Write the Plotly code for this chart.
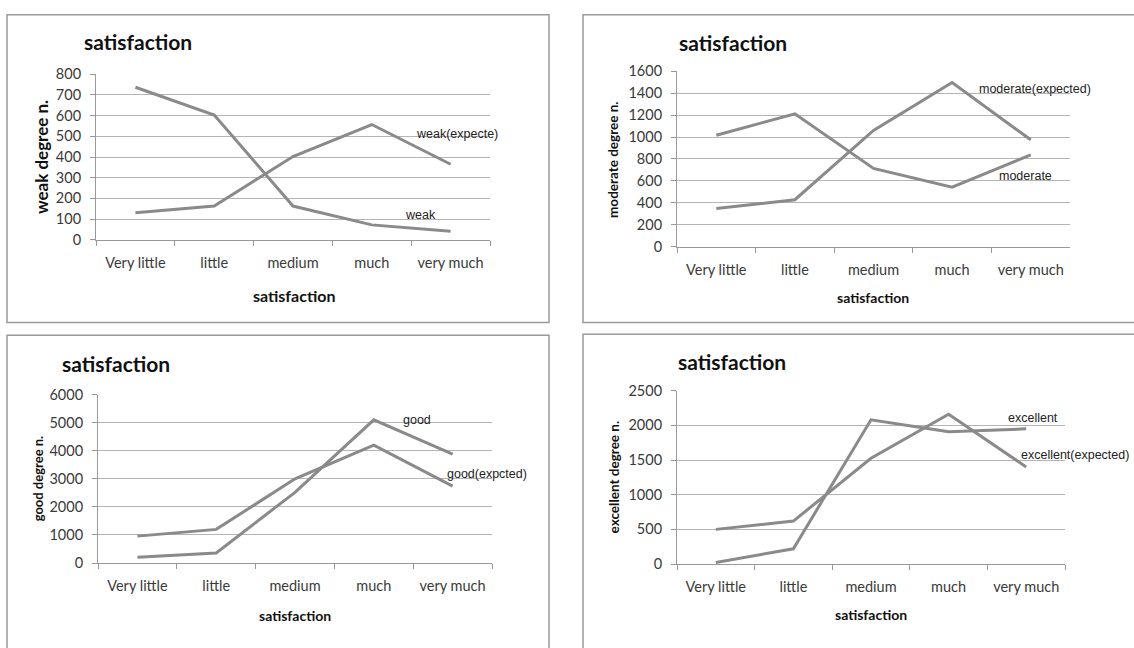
import plotly.graph_objects as go

# ---------------- data ----------------
categories = ["Very little", "little", "medium", "much", "very much"]

weak = [737, 603, 163, 72, 41]
weak_expected = [131, 163, 402, 557, 365]

moderate = [1016, 1212, 714, 542, 838]
moderate_expected = [347, 428, 1060, 1498, 975]

good = [210, 360, 2520, 5100, 3880]
good_expected = [960, 1200, 3000, 4200, 2740]

excellent = [22, 220, 2080, 1910, 1950]
excellent_expected = [500, 620, 1525, 2160, 1400]

y_titles = ["weak degree n.", "moderate degree n.", "good degree n.", "excellent degree n."]
y_ranges = [800, 1600, 6000, 2500]
y_dticks = [100, 200, 1000, 500]
series_labels = [["weak", "weak(expecte)"],
                 ["moderate", "moderate(expected)"],
                 ["good", "good(expcted)"],
                 ["excellent", "excellent(expected)"]]
series = [[weak, weak_expected],
          [moderate, moderate_expected],
          [good, good_expected],
          [excellent, excellent_expected]]

# ---------------- layout helpers ----------------
W, H = 1134, 648
def px(x):
    return x / W
def py(y):
    return 1 - y / H

# plot areas in pixels (x0, x1, ytop, ybottom)
areas = [(96, 490, 67, 237), (677, 1070, 64, 244), (98, 492, 396, 569), (677, 1065, 392, 570)]
# panel borders (x0, y0, x1, y1)
borders = [(7, 6, 549, 322), (583, 6, 1140, 322), (7, 335, 549, 660), (583, 334, 1140, 660)]
title_pos = [(82, 33), (677, 34), (60, 364), (676, 362)]
ytitle_pos = [(41, 152), (613, 155), (38, 482), (614, 481)]
ytitle_size = [17, 13.5, 13, 13.5]
xtitle_pos = [(294, 294), (873, 296), (295, 623), (871, 622)]
xtitle_size = [16, 14, 14, 14]
# series label centres in pixels
label_pos = [[(420, 212), (457, 128)],
             [(1025, 172), (1035, 82)],
             [(417, 422), (487, 478)],
             [(1033, 420), (1075, 458)]]

LINE = "#8a8a8a"
GRID = "#b4b4b4"
TXT = "#3a3a3a"
FONT = "Lato"

fig = go.Figure()
layout = dict(width=W, height=H, margin=dict(l=0, r=0, t=0, b=0),
              paper_bgcolor="white", plot_bgcolor="white", showlegend=False)
annotations = []
shapes = []

for i in range(4):
    n = "" if i == 0 else str(i + 1)
    x0, x1, yt, yb = areas[i]
    for s in series[i]:
        fig.add_trace(go.Scatter(x=categories, y=s, mode="lines",
                                 line=dict(color=LINE, width=3),
                                 xaxis="x" + n, yaxis="y" + n, hoverinfo="skip"))
    layout["xaxis" + n] = dict(domain=[px(x0), px(x1)], anchor="y" + n,
                               type="category", categoryorder="array", categoryarray=categories,
                               showgrid=False, showline=True, linecolor="#999999", linewidth=1,
                               ticks="outside", tickson="boundaries", ticklen=5, tickcolor="#999999",
                               tickfont=dict(family=FONT, size=14.5, color=TXT),
                               ticklabelstandoff=10, range=[-0.5, 4.5], fixedrange=True)
    layout["yaxis" + n] = dict(domain=[py(yb), py(yt)], anchor="x" + n,
                               range=[0, y_ranges[i]], dtick=y_dticks[i],
                               showgrid=True, gridcolor=GRID, gridwidth=1,
                               showline=True, linecolor="#999999", linewidth=1,
                               ticks="outside", ticklen=5, tickcolor="#999999",
                               zeroline=False,
                               tickfont=dict(family=FONT, size=14.5, color=TXT),
                               ticklabelstandoff=6, fixedrange=True)
    bx0, by0, bx1, by1 = borders[i]
    shapes.append(dict(type="rect", xref="paper", yref="paper",
                       x0=px(bx0), x1=px(bx1), y0=py(by1), y1=py(by0),
                       line=dict(color="#9a9a9a", width=1.5), layer="below"))
    tx, ty = title_pos[i]
    annotations.append(dict(text="<b>satisfaction</b>", xref="paper", yref="paper",
                            x=px(tx), y=py(ty), xanchor="left", yanchor="middle",
                            showarrow=False, font=dict(family=FONT, size=21, color="#111111")))
    yx, yy = ytitle_pos[i]
    annotations.append(dict(text="<b>" + y_titles[i] + "</b>", xref="paper", yref="paper",
                            x=px(yx), y=py(yy), xanchor="center", yanchor="middle", textangle=-90,
                            showarrow=False, font=dict(family=FONT, size=ytitle_size[i], color="#111111")))
    xx, xy = xtitle_pos[i]
    annotations.append(dict(text="<b>satisfaction</b>", xref="paper", yref="paper",
                            x=px(xx), y=py(xy), xanchor="center", yanchor="middle",
                            showarrow=False, font=dict(family=FONT, size=xtitle_size[i], color="#111111")))
    for lab, (cx, cy) in zip(series_labels[i], label_pos[i]):
        annotations.append(dict(text=lab, xref="paper", yref="paper", x=px(cx), y=py(cy),
                                xanchor="center", yanchor="middle", showarrow=False,
                                font=dict(family="Liberation Sans", size=12.5, color="#222222")))

layout["annotations"] = annotations
layout["shapes"] = shapes
fig.update_layout(**layout)

post = ("document.body.style.margin='0';"
        "var d=document.getElementById('{plot_id}');"
        "d.style.position='fixed';d.style.top='0px';d.style.left='0px';")
fig.write_html("out.html", post_script=post, config={"displayModeBar": False})
